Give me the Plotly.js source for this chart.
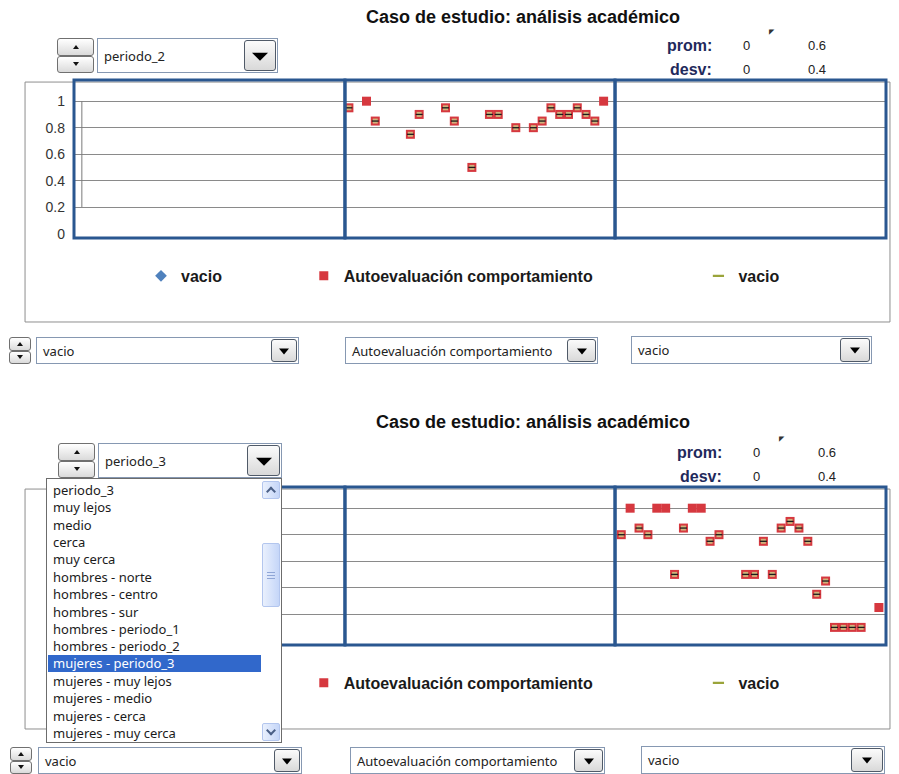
<!DOCTYPE html>
<html><head><meta charset="utf-8">
<script src="https://cdn.plot.ly/plotly-3.0.1.min.js"></script>
<style>
html,body{margin:0;padding:0;background:#fff;}
body{width:899px;height:774px;overflow:hidden;position:relative;font-family:"Noto Sans",sans-serif;}
.chart{position:absolute;left:0;width:899px;height:367px;z-index:1;}
.w{position:absolute;z-index:5;box-sizing:border-box;}
.spin .h{position:absolute;left:0;right:0;height:50%;box-sizing:border-box;border:1px solid #707070;border-radius:3px;background:linear-gradient(#ffffff,#dadada);}
.spin .up{top:0;} .spin .dn{bottom:0;}
.spin .h::after{content:"";position:absolute;left:50%;top:50%;transform:translate(-50%,-50%);border-left:3.5px solid transparent;border-right:3.5px solid transparent;}
.spin .up::after{border-bottom:4px solid #111;}
.spin .dn::after{border-top:4px solid #111;}
.combo{border:1px solid #8698b2;background:#fff;font-size:13px;color:#222;}
.combo .t{position:absolute;left:6px;top:50%;transform:translateY(-52%);white-space:nowrap;}
.combo .b{position:absolute;right:1px;top:1px;bottom:1px;box-sizing:border-box;border:1px solid #505a68;border-radius:3px;background:linear-gradient(#fbfbfb,#d9d9d9);}
.combo .b::after{content:"";position:absolute;left:50%;top:50%;transform:translate(-50%,-40%);}
.big .b::after{border-left:8px solid transparent;border-right:8px solid transparent;border-top:8px solid #000;}
.small .b::after{border-left:5.5px solid transparent;border-right:5.5px solid transparent;border-top:6.5px solid #000;}
.lista{border:1px solid #6c6c6c;background:#fff;overflow:hidden;font-size:13px;color:#1b1b1b;}
.lista .it{position:absolute;left:1px;width:213px;height:16px;line-height:16px;padding-left:5px;box-sizing:border-box;white-space:nowrap;}
.lista .sel{background:#3168cb;color:#fff;height:17px;line-height:17px;}
.sb{position:absolute;left:215px;width:18px;box-sizing:border-box;border:1px solid #b3c6ee;border-radius:2px;background:linear-gradient(90deg,#e9f0fd,#c5d6f8);}
.sb.arr::after{content:"";position:absolute;left:50%;width:5px;height:5px;border-left:2px solid #4a5f86;border-top:2px solid #4a5f86;}
.sb.upa::after{top:6px;transform:translateX(-50%) rotate(45deg);}
.sb.dna::after{top:3px;transform:translateX(-50%) rotate(225deg);}
.sb.thumb::after{content:"";position:absolute;left:4px;right:4px;top:50%;height:5px;margin-top:-3px;border-top:1px solid #8fa6d6;border-bottom:1px solid #8fa6d6;}
.sb.thumb::before{content:"";position:absolute;left:4px;right:4px;top:50%;height:0;border-top:1px solid #8fa6d6;}
</style></head>
<body>
<div id="g1" class="chart" style="top:0px"></div>
<div id="g2" class="chart" style="top:407px"></div>
<script>
// ---------- Datos ----------
const tituloGrafico = "Caso de estudio: análisis académico";
const nombresSeries = ["vacio", "Autoevaluación comportamiento", "vacio"];
const ticksY = [0, 0.2, 0.4, 0.6, 0.8, 1];
const etiquetasY = ["0", "0.2", "0.4", "0.6", "0.8", "1"];

// Gráfico superior (periodo_2): serie en el panel central
const alumnos1 = [0, 2, 3, 7, 8, 11, 12, 14, 16, 17, 19, 21, 22, 23, 24, 25, 26, 27, 28, 29];
const autoeval1 = [0.95, 1, 0.85, 0.75, 0.9, 0.95, 0.85, 0.5, 0.9, 0.9, 0.8, 0.8, 0.85, 0.95, 0.9, 0.9, 0.95, 0.9, 0.85, 1];
const marcado1 = [1, 0, 1, 1, 1, 1, 1, 1, 1, 1, 1, 1, 1, 1, 1, 1, 1, 1, 1, 0];
const prom1 = [0, 0.6];
const desv1 = [0, 0.4];

// Gráfico inferior (periodo_3): serie en el panel derecho
const alumnos2 = [0, 1, 2, 3, 4, 5, 6, 7, 8, 9, 10, 11, 14, 15, 16, 17, 18, 19, 20, 21, 22, 23, 24, 25, 26, 27, 29];
const autoeval2 = [0.8, 1, 0.85, 0.8, 1, 1, 0.5, 0.85, 1, 1, 0.75, 0.8, 0.5, 0.5, 0.75, 0.5, 0.85, 0.9, 0.85, 0.75, 0.35, 0.45, 0.1, 0.1, 0.1, 0.1, 0.25];
const marcado2 = [1, 0, 1, 1, 0, 0, 1, 1, 0, 0, 1, 1, 1, 1, 1, 1, 1, 1, 1, 1, 1, 1, 1, 1, 1, 1, 0];
const prom2 = [0, 0.6];
const desv2 = [0, 0.4];

const opcionesLista = ["periodo_3", "muy lejos", "medio", "cerca", "muy cerca", "hombres - norte", "hombres - centro", "hombres - sur", "hombres - periodo_1", "hombres - periodo_2", "mujeres - periodo_3", "mujeres - muy lejos", "mujeres - medio", "mujeres - cerca", "mujeres - muy cerca"];
const opcionSeleccionada = "mujeres - periodo_3";

// ---------- Gráficos ----------
const FONT = "Liberation Sans, Arial, sans-serif";
const AZUL = "#2a5790";

function dibujar(divId, cfg) {
  const yMarc = cfg.valores.map((v, i) => cfg.marcado[i] ? v : null);
  const eje = cfg.eje;
  const data = [
    {type:'scatter', mode:'markers', x:[0], y:[null], xaxis:'x', yaxis:'y', showlegend:false, hoverinfo:'skip'},
    {type:'scatter', mode:'markers', x:[0], y:[null], xaxis:'x2', yaxis:'y', showlegend:false, hoverinfo:'skip'},
    {type:'scatter', mode:'markers', x:[0], y:[null], xaxis:'x3', yaxis:'y', showlegend:false, hoverinfo:'skip'},
    {type:'scatter', mode:'markers', name:nombresSeries[0], x:[0], y:[null], xaxis:'x', yaxis:'y', legend:'legend',
     showlegend:!cfg.tapado, marker:{symbol:'diamond', size:9, color:'#4f81bd'}},
    {type:'scatter', mode:'markers', name:nombresSeries[1], x:cfg.alumnos, y:cfg.valores, xaxis:eje, yaxis:'y', legend:'legend2',
     marker:{symbol:'square', size:9, color:'#d6383f', line:{width:0}}},
    {type:'scatter', mode:'markers', x:cfg.alumnos, y:yMarc, xaxis:eje, yaxis:'y', showlegend:false,
     marker:{symbol:'square', size:5, color:'#cfb47c', line:{width:0}}},
    {type:'scatter', mode:'markers', x:cfg.alumnos, y:yMarc, xaxis:eje, yaxis:'y', showlegend:false,
     marker:{symbol:'line-ew', size:5, line:{color:'#1c1c1c', width:1.3}}},
    {type:'scatter', mode:'markers', name:nombresSeries[2], x:[0], y:[null], xaxis:'x3', yaxis:'y', legend:'legend3',
     marker:{symbol:'line-ew', size:8, color:'#9aa43a', line:{color:'#9aa43a', width:2.2}}}
  ];
  const ax = (d) => ({domain:d, range:cfg.rangoX, showgrid:false, zeroline:false, showline:false,
                      showticklabels:false, ticks:'', anchor:'y'});
  const leg = (x) => ({x:x, y:-0.24, xanchor:'left', yanchor:'middle', orientation:'h',
                       bgcolor:'rgba(0,0,0,0)', font:{family:FONT, size:16, color:'#1a1a1a', weight:'bold'}});
  const dx = cfg.dx / 812;
  const annF = {family:FONT, size:13, color:'#222'};
  const layout = {
    width:899, height:367,
    margin:{l:74, r:13, t:80, b:129, pad:0},
    paper_bgcolor:'rgba(0,0,0,0)', plot_bgcolor:'rgba(0,0,0,0)',
    title:{text:'<b>' + tituloGrafico + '</b>', font:{family:FONT, size:18, color:'#111'},
           xref:'container', x:(523 + cfg.dx) / 899, xanchor:'center',
           yref:'container', y:1 - cfg.tituloY / 367, yanchor:'middle'},
    xaxis: ax([0, 0.3337]), xaxis2: ax([0.3337, 0.6663]), xaxis3: ax([0.6663, 1]),
    yaxis:{range:[-0.033, 1.16], tickvals:ticksY, ticktext:etiquetasY, showgrid:true, gridcolor:'#8a8a8a',
           gridwidth:1, zeroline:true, zerolinecolor:'rgba(0,0,0,0)', zerolinewidth:1,
           showline:false, ticks:'', ticklabelstandoff:8, showticklabels:!cfg.tapado,
           tickfont:{family:FONT, size:14, color:'#333'}},
    legend: leg(0.0825), legend2: leg(0.283), legend3: leg(0.769),
    shapes:[
      {type:'rect', xref:'paper', yref:'paper', x0:-0.0603, x1:1.0049, y0:-0.5316, y1:0.987,
       line:{color:'#8e8e8e', width:1}, layer:'below'},
      {type:'line', xref:'x domain', yref:'y', x0:0.029, x1:0.029, y0:0.2, y1:1, line:{color:'#7a7a7a', width:1}},
      {type:'rect', xref:'x domain', yref:'y domain', x0:0, x1:1, y0:0, y1:1, line:{color:AZUL, width:3}},
      {type:'rect', xref:'x2 domain', yref:'y domain', x0:0, x1:1, y0:0, y1:1, line:{color:AZUL, width:3}},
      {type:'rect', xref:'x3 domain', yref:'y domain', x0:0, x1:1, y0:0, y1:1, line:{color:AZUL, width:3}}
    ],
    annotations:[
      {xref:'paper', yref:'paper', x:0.7882 + dx, y:1.2215, xanchor:'right', yanchor:'middle', showarrow:false,
       text:'<b>prom:</b>', font:{family:FONT, size:16, color:'#1f2a5c'}},
      {xref:'paper', yref:'paper', x:0.8288 + dx, y:1.2215, xanchor:'center', yanchor:'middle', showarrow:false,
       text:String(cfg.prom[0]), font:annF},
      {xref:'paper', yref:'paper', x:0.9150 + dx, y:1.2215, xanchor:'center', yanchor:'middle', showarrow:false,
       text:String(cfg.prom[1]), font:annF},
      {xref:'paper', yref:'paper', x:0.7882 + dx, y:1.0633, xanchor:'right', yanchor:'middle', showarrow:false,
       text:'<b>desv:</b>', font:{family:FONT, size:16, color:'#1f2a5c'}},
      {xref:'paper', yref:'paper', x:0.8288 + dx, y:1.0633, xanchor:'center', yanchor:'middle', showarrow:false,
       text:String(cfg.desv[0]), font:annF},
      {xref:'paper', yref:'paper', x:0.9150 + dx, y:1.0633, xanchor:'center', yanchor:'middle', showarrow:false,
       text:String(cfg.desv[1]), font:annF},
      {xref:'paper', yref:'paper', x:0.8596 + dx, y:1.3038, xanchor:'center', yanchor:'middle', showarrow:false,
       text:'◤', font:{family:'DejaVu Sans', size:7, color:'#333'}}
    ]
  };
  Plotly.newPlot(divId, data, layout, {staticPlot:true, displayModeBar:false});
}

dibujar('g1', {alumnos:alumnos1, valores:autoeval1, marcado:marcado1, eje:'x2', rangoX:[-0.45, 30.3],
               prom:prom1, desv:desv1, dx:0, tituloY:17, tapado:false});
// En el gráfico inferior, el eje Y y la primera leyenda quedan tapados por la lista desplegada
dibujar('g2', {alumnos:alumnos2, valores:autoeval2, marcado:marcado2, eje:'x3', rangoX:[-0.7, 29.8],
               prom:prom2, desv:desv2, dx:10, tituloY:15, tapado:true});

// ---------- Controles (formulario de Excel) ----------
function spin(l, t, w, h) {
  const d = document.createElement('div');
  d.className = 'w spin';
  d.style.cssText += `left:${l}px;top:${t}px;width:${w}px;height:${h}px;`;
  d.innerHTML = '<div class="h up"></div><div class="h dn"></div>';
  document.body.appendChild(d);
}
function combo(l, t, w, h, texto, bw, tam) {
  const d = document.createElement('div');
  d.className = 'w combo ' + tam;
  d.style.cssText += `left:${l}px;top:${t}px;width:${w}px;height:${h}px;`;
  d.innerHTML = `<span class="t">${texto}</span><div class="b" style="width:${bw}px"></div>`;
  document.body.appendChild(d);
}
spin(57, 38, 37, 35);
combo(97, 38, 181, 35, 'periodo_2', 32, 'big');
spin(9, 337, 22, 27);
combo(36, 337, 263, 27, 'vacio', 26, 'small');
combo(345, 337, 253, 27, 'Autoevaluación comportamiento', 29, 'small');
combo(631, 336, 241, 28, 'vacio', 30, 'small');

spin(58, 443, 37, 35);
combo(98, 443, 184, 35, 'periodo_3', 33, 'big');
spin(10, 747, 22, 27);
combo(38, 747, 264, 27, 'vacio', 26, 'small');
combo(350, 747, 255, 27, 'Autoevaluación comportamiento', 29, 'small');
combo(641, 746, 244, 28, 'vacio', 32, 'small');

(function lista() {
  const d = document.createElement('div');
  d.className = 'w lista';
  d.style.cssText += 'left:46px;top:478px;width:236px;height:265px;z-index:6;';
  let html = '';
  opcionesLista.forEach((op, i) => {
    const sel = op === opcionSeleccionada;
    const top = (sel ? 2.5 : 3) + i * 17.36;
    html += `<div class="it${sel ? ' sel' : ''}" style="top:${top}px">${op}</div>`;
  });
  html += '<div class="sb arr upa" style="top:2px;height:18px"></div>';
  html += '<div class="sb thumb" style="top:64px;height:64px"></div>';
  html += '<div class="sb arr dna" style="top:244px;height:18px"></div>';
  d.innerHTML = html;
  document.body.appendChild(d);
})();
</script>
</body></html>
